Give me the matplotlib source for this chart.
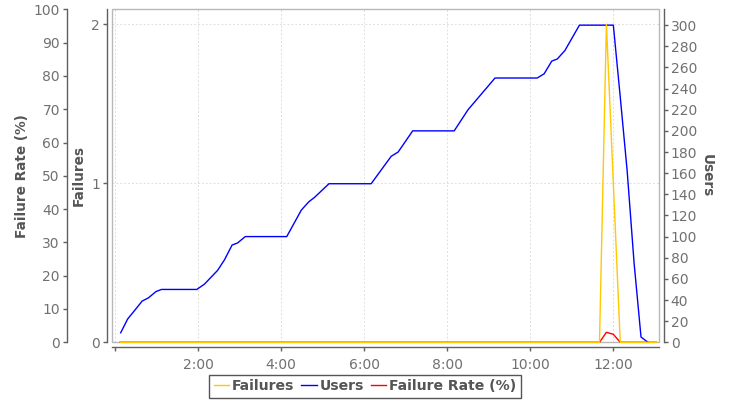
import matplotlib
matplotlib.use("Agg")
import matplotlib.pyplot as plt
from matplotlib.patches import Rectangle

# elapsed time in seconds for each sample
users_t = [8, 18, 28, 39, 48, 59, 67, 118, 129, 148, 158, 169, 177, 188,
           248, 269, 280, 288, 309, 370, 399, 409, 430, 490, 510, 549, 610,
           620, 631, 639, 650, 671, 720, 730, 740, 750, 760, 770]
users = [9, 22, 30, 39, 42, 48, 50, 50, 55, 68, 78, 92, 94, 100,
         100, 125, 133, 137, 150, 150, 176, 180, 200, 200, 220, 250, 250,
         254, 266, 268, 276, 300, 300, 232, 162, 75, 5, 0]

fail_t = [7, 700, 710, 720, 730, 782]
failures = [0, 0, 2, 1, 0, 0]
fail_rate = [0, 0, 3.0, 2.4, 0, 0]

x_ticks = [0, 120, 240, 360, 480, 600, 720]
x_tick_labels = ['', '2:00', '4:00', '6:00', '8:00', '10:00', '12:00']

AXIS_COL = '#606060'
TICK_COL = '#707070'
LABEL_COL = '#555555'
PX = 0.72  # points per pixel at 100 dpi

fig = plt.figure(figsize=(7.3, 4), dpi=100)
ax = fig.add_axes([111.7 / 730, (400 - 342.3) / 400, (659 - 111.7) / 730, (342.3 - 9.3) / 400])
ax_rate = ax.twinx()
ax_users = ax.twinx()
ax_fail = ax.twinx()

# host axis: Failures scale, grid, time axis
ax.set_xlim(-5, 786)
ax.set_ylim(0, 2.094)
ax.set_yticks([0, 1, 2])
ax.set_xticks(x_ticks)
ax.set_xticklabels(x_tick_labels)
ax.grid(True, color='#dedede', linestyle=(0, (2, 2)), linewidth=0.7)
for s in ('top', 'right'):
    ax.spines[s].set_visible(False)
ax.spines['left'].set_position(('outward', 5 * PX))
ax.spines['bottom'].set_position(('outward', 5 * PX))
ax.set_ylabel('Failures', fontsize=9.8, fontweight='bold', color=LABEL_COL, labelpad=4)
ax.add_patch(Rectangle((0, 0), 1, 1, transform=ax.transAxes, fill=False,
                       edgecolor='#b8b8b8', linewidth=1, clip_on=False, zorder=5))

# failure rate axis, far left
ax_rate.set_ylim(0, 100)
ax_rate.set_yticks(range(0, 101, 10))
ax_rate.yaxis.set_ticks_position('left')
ax_rate.yaxis.set_label_position('left')
for s in ('top', 'right', 'bottom'):
    ax_rate.spines[s].set_visible(False)
ax_rate.spines['left'].set_position(('outward', 45 * PX))
ax_rate.set_ylabel('Failure Rate (%)', fontsize=9.8, fontweight='bold', color=LABEL_COL, labelpad=3)
ax_rate.plot(fail_t, fail_rate, color='#ff0000', linewidth=1.0, label='Failure Rate (%)', clip_on=False)

# users axis, right
ax_users.set_ylim(0, 315)
ax_users.set_yticks(range(0, 301, 20))
for s in ('top', 'left', 'bottom'):
    ax_users.spines[s].set_visible(False)
ax_users.spines['right'].set_position(('outward', 5 * PX))
ax_users.set_ylabel('Users', fontsize=9.8, fontweight='bold', color=LABEL_COL,
                    rotation=-90, va='bottom', labelpad=2)
ax_users.plot(users_t, users, color='#0000ff', linewidth=1.0, label='Users', clip_on=False)

# failures line on top, sharing the host scale
ax_fail.set_ylim(ax.get_ylim())
ax_fail.axis('off')
ax_fail.plot(fail_t, failures, color='#ffc800', linewidth=1.0, label='Failures', clip_on=False)

for a in (ax, ax_rate, ax_users):
    a.tick_params(colors=AXIS_COL, labelcolor=TICK_COL, labelsize=10,
                  length=4 * PX, width=1, pad=2)
    for s in a.spines.values():
        s.set_color(AXIS_COL)
        s.set_linewidth(1)
ax.tick_params(axis='x', pad=4.5)

handles = ax_fail.get_lines() + ax_users.get_lines() + ax_rate.get_lines()
leg = fig.legend(handles, [h.get_label() for h in handles], loc='center',
                 bbox_to_anchor=(0.5, (400 - 386.3) / 400), ncol=3,
                 prop={'size': 10.1, 'weight': 'bold'},
                 frameon=True, fancybox=False, framealpha=1, edgecolor='#555555',
                 handlelength=1.1, handletextpad=0.2, columnspacing=0.5,
                 borderpad=0.3, borderaxespad=0)
leg.get_frame().set_linewidth(1)
for t in leg.get_texts():
    t.set_color(LABEL_COL)

fig.savefig('out.png', dpi=100)
